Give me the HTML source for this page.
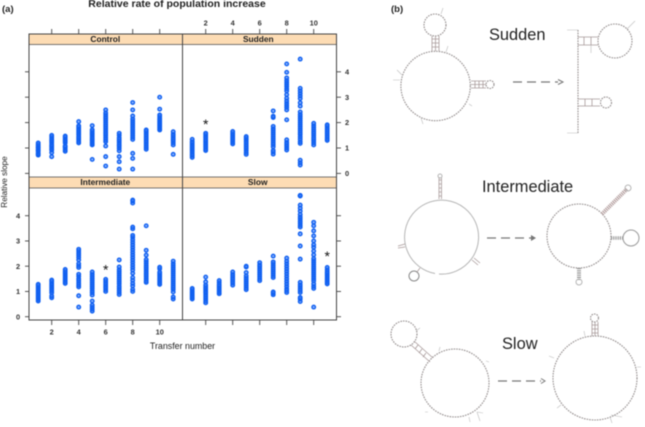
<!DOCTYPE html>
<html>
<head>
<meta charset="utf-8">
<style>
html,body{margin:0;padding:0;background:#fff;width:645px;height:427px;overflow:hidden}
svg{display:block;filter:blur(0.45px)}
text{font-family:"Liberation Sans",sans-serif}
.rna{fill:none;stroke:#958f8f;stroke-width:1.1;stroke-dasharray:1.6 1}
.rnal{fill:none;stroke:#b5b5b5;stroke-width:1}
.stem{fill:none;stroke:#a89a9a;stroke-width:.8}
.tick{fill:none;stroke:#bbb;stroke-width:.6}
.arrow{fill:none;stroke:#777;stroke-width:1.3;stroke-dasharray:9 5}
.big{font-size:16.4px;fill:#222}
</style>
</head>
<body>
<svg id="fig" width="645" height="427" viewBox="0 0 645 427" xmlns="http://www.w3.org/2000/svg">
  <text x="2" y="12" font-size="9.5" font-weight="bold" fill="#222">(a)</text>
  <text x="177" y="7" font-size="10.5" font-weight="bold" fill="#222" text-anchor="middle">Relative rate of population increase</text>
  <text x="182.5" y="349" font-size="8.9" fill="#222" text-anchor="middle">Transfer number</text>
  <text transform="translate(7,182) rotate(-90)" font-size="8.2" fill="#222" text-anchor="middle">Relative slope</text>

  <g>
    <rect x="29" y="34" width="153.5" height="10.5" fill="#fddcb4" stroke="#555" stroke-width=".8"/>
    <rect x="182.5" y="34" width="154" height="10.5" fill="#fddcb4" stroke="#555" stroke-width=".8"/>
    <rect x="29" y="177" width="153.5" height="11" fill="#fddcb4" stroke="#555" stroke-width=".8"/>
    <rect x="182.5" y="177" width="154" height="11" fill="#fddcb4" stroke="#555" stroke-width=".8"/>
    <text x="105.3" y="42" font-size="8.4" font-weight="bold" fill="#222" text-anchor="middle">Control</text>
    <text x="258.3" y="42" font-size="8.4" font-weight="bold" fill="#222" text-anchor="middle">Sudden</text>
    <text x="105.3" y="185" font-size="8.4" font-weight="bold" fill="#222" text-anchor="middle">Intermediate</text>
    <text x="257.7" y="185" font-size="8.4" font-weight="bold" fill="#222" text-anchor="middle">Slow</text>
  </g>
  <g fill="none" stroke="#444" stroke-width="1">
    <rect x="29" y="34" width="307.5" height="286"/>
    <line x1="182.5" y1="34" x2="182.5" y2="320"/>
  </g>
  <g id="plot"></g>

  <!-- Panel b -->
  <text x="391" y="12" font-size="9.5" font-weight="bold" fill="#222">(b)</text>
  <text x="489" y="40" class="big">Sudden</text>
  <text x="482" y="192" class="big">Intermediate</text>
  <text x="502" y="349" class="big">Slow</text>

  <g>
    <circle class="rna" cx="435.6" cy="86" r="34.7"/>
    <circle class="rna" cx="435" cy="25" r="11"/>
    <path class="stem" d="M432 36V51M435.500 36V51M439 36V51M432 39H439M432 43H439M432 47H439"/>
    <path class="stem" d="M471 81H486M471 84.500H486M471 88H486M475 81V88M479 81V88M483 81V88"/>
    <circle class="rna" cx="490" cy="84.500" r="4"/>
    <path class="tick" d="M441 14L443 8M446 52L448 46M402 75L397 70M400 80H393M469 104L472 106M421 118L423 124"/>
  </g>
  <path class="arrow" d="M513 82H558"/>
  <path d="M558 79.500L563 82L558 84.500" fill="none" stroke="#777" stroke-width="1"/>
  <g>
    <path class="rna" d="M578 30V133"/>
    <path class="stem" d="M578 37H598M578 45H598M584 37V45M591 37V45M578 99H600M578 106H600M585 99V106M592 99V106"/>
    <path class="tick" d="M567 30H578M567 133H578M591 45V53M627 29L635 21"/>
    <circle class="rna" cx="615" cy="41" r="17"/>
    <circle class="rna" cx="606" cy="102.500" r="5.500"/>
  </g>

  <g>
    <path class="rnal" d="M435 273.500A37 37 0 1 1 439 274"/>
    <path class="stem" d="M439 177V199M441.500 177V199M439 180H441.500M439 184H441.500M439 188H441.500M439 192H441.500M439 196H441.500"/>
    <circle class="rnal" cx="440" cy="176" r="2"/>
    <circle cx="414" cy="276" r="5" fill="none" stroke="#888" stroke-width="1"/>
    <path class="stem" d="M417 272L420 268" stroke-width="1.500"/>
    <path class="stem" d="M405 244L398 246M405 247L398 248M474 258L480 263M472 260L478 265"/>
  </g>
  <path class="arrow" d="M487 238H532"/>
  <path d="M531 235L536 238L531 241Z" fill="#777"/>
  <g>
    <circle class="rna" cx="579" cy="236" r="32"/>
    <path d="M602 214L627 189" stroke="#b5a0a0" stroke-width="4" stroke-dasharray="1.200 .8" fill="none"/>
    <circle class="rnal" cx="628" cy="188" r="3" stroke="#999"/>
    <path d="M611 238H623" stroke="#999" stroke-width="3.500" stroke-dasharray="1.200 1" fill="none"/>
    <circle cx="631" cy="238" r="8" fill="none" stroke="#999" stroke-width="1"/>
    <path d="M579 268V280" stroke="#999" stroke-width="4" stroke-dasharray="1.200 1" fill="none"/>
    <circle class="rnal" cx="579" cy="282" r="3" stroke="#999"/>
  </g>

  <g>
    <circle class="rna" cx="455" cy="383" r="34"/>
    <circle class="rna" cx="404" cy="334" r="13"/>
    <path class="stem" d="M414 341L433 358M411 345L430 362M418 345L415 349M422 349L419 353M426 353L423 357"/>
    <path class="tick" d="M416 331L420 328M439 351L440 347M486 361L489 362M428 412L425 412M477 412L480 421M477 412L483 413M469 417L470 422"/>
  </g>
  <path class="arrow" d="M498 381H541"/>
  <path d="M541 378.500L545 381L541 383.500" fill="none" stroke="#777" stroke-width="1"/>
  <g>
    <circle class="rna" cx="595" cy="378" r="42"/>
    <path class="stem" d="M592 322V336M595 322V336M598 322V336M592 325H598M592 329H598M592 333H598"/>
    <circle class="rna" cx="594.500" cy="318" r="4"/>
    <path class="tick" d="M585 336L584 331M554 358L549 356M637 367L641 367M561 405L557 408M610 417L612 423M611 415L622 417"/>
  </g>
</svg>
<script>
const xTickValues = [2, 4, 6, 8, 10];
const yTickValues = [0, 1, 2, 3, 4];
const transfers = [1, 2, 3, 4, 5, 6, 7, 8, 9, 10, 11];

const controlSlopes = [
  [0.72,0.76,0.8,0.86,0.9,0.93,0.98,1.02,1.05,1.1,1.14,1.2],
  [0.66,0.82,0.92,0.97,1.03,1.08,1.13,1.2,1.26,1.31,1.37,1.44,1.5],
  [0.87,0.93,1.0,1.05,1.08,1.2,1.26,1.3,1.36,1.42,1.47],
  [1.2,1.26,1.33,1.39,1.45,1.52,1.58,1.64,1.7,1.76,1.82,1.87,2.04],
  [0.55,1.12,1.17,1.22,1.28,1.33,1.38,1.44,1.5,1.55,1.6,1.66,1.72,1.88],
  [0.29,0.66,1.08,1.25,1.32,1.4,1.48,1.55,1.62,1.7,1.78,1.85,1.92,2.0,2.08,2.15,2.22,2.3,2.38,2.5],
  [0.17,0.46,0.66,0.89,0.99,1.07,1.13,1.2,1.27,1.33,1.4,1.5,1.58],
  [0.17,0.59,0.79,1.34,1.42,1.5,1.58,1.66,1.74,1.82,1.9,1.98,2.06,2.14,2.26,2.5,2.79],
  [0.95,1.02,1.09,1.16,1.23,1.3,1.37,1.44,1.51,1.58,1.65,1.71],
  [1.71,1.76,1.81,1.86,1.91,1.96,2.01,2.06,2.11,2.16,2.23,2.3,2.53,3.0],
  [0.75,1.12,1.2,1.27,1.33,1.4,1.47,1.54,1.64]
];
const suddenSlopes = [
  [0.63,0.7,0.76,0.83,0.89,0.95,1.01,1.07,1.13,1.19,1.25,1.34],
  [0.9,0.96,1.03,1.09,1.15,1.21,1.27,1.33,1.4,1.46,1.52,1.58],
  [],
  [1.16,1.22,1.28,1.34,1.4,1.46,1.52,1.58,1.65],
  [0.75,0.82,0.9,0.98,1.05,1.12,1.19,1.26,1.33,1.39,1.45],
  [],
  [0.76,0.84,0.9,1.05,1.13,1.2,1.28,1.36,1.44,1.52,1.6,1.68,1.76,1.85,2.2,2.25,2.46],
  [0.92,1.0,1.08,1.15,1.22,1.32,2.11,2.5,2.6,2.68,2.76,2.85,2.96,3.1,3.25,3.33,3.42,3.5,3.58,3.66,3.76,3.98,4.31],
  [0.33,0.42,0.52,1.18,1.25,1.35,1.44,1.53,1.6,1.68,1.76,1.84,1.92,2.0,2.08,2.16,2.24,2.32,2.42,2.65,2.78,2.95,3.05,3.15,3.25,3.35,4.5],
  [1.12,1.2,1.28,1.35,1.42,1.5,1.57,1.64,1.72,1.8,1.88,1.97],
  [1.3,1.36,1.43,1.5,1.57,1.64,1.71,1.78,1.85,1.91]
];
const intermediateSlopes = [
  [0.62,0.68,0.74,0.8,0.86,0.92,0.98,1.04,1.1,1.16,1.22,1.28],
  [0.75,0.82,0.95,1.02,1.08,1.14,1.2,1.26,1.32,1.39,1.45],
  [1.32,1.38,1.44,1.5,1.56,1.62,1.68,1.74,1.8,1.87],
  [0.38,0.83,1.18,1.25,1.33,1.42,1.5,1.6,1.68,1.95,2.02,2.1,2.25,2.35,2.44,2.52,2.6,2.67],
  [0.22,0.3,0.38,0.46,0.62,0.86,0.95,1.03,1.12,1.2,1.28,1.36,1.44,1.52,1.6,1.68,1.77],
  [1.0,1.07,1.14,1.2,1.27,1.34,1.41,1.48],
  [0.88,0.96,1.04,1.12,1.2,1.3,1.38,1.46,1.54,1.62,1.7,1.78,1.86,1.97,2.25],
  [1.0,1.08,1.22,1.32,1.44,1.55,1.72,1.85,1.95,2.05,2.15,2.25,2.35,2.45,2.55,2.65,2.75,2.85,2.95,3.05,3.15,3.22,3.48,3.55,4.5,4.58,4.62],
  [1.36,1.42,1.5,1.58,1.65,1.72,1.8,1.88,1.95,2.02,2.1,2.18,2.26,2.44,2.63,3.6],
  [1.28,1.34,1.4,1.46,1.52,1.58,1.64,1.7,1.76,1.9,1.96],
  [0.7,0.78,0.98,1.08,1.15,1.22,1.3,1.38,1.46,1.54,1.62,1.7,1.78,1.86,1.94,2.02,2.1,2.2]
];
const slowSlopes = [
  [0.7,0.76,0.82,0.88,0.94,1.0,1.06,1.12],
  [0.55,0.62,0.7,0.78,0.86,0.94,1.0,1.06,1.12,1.18,1.25,1.38,1.57],
  [0.91,0.97,1.03,1.09,1.15,1.21,1.27,1.35,1.43],
  [1.25,1.33,1.4,1.47,1.54,1.61,1.68,1.77],
  [1.07,1.14,1.22,1.3,1.38,1.46,1.54,1.62,1.75,1.97,2.0],
  [1.43,1.5,1.58,1.66,1.74,1.82,1.9,1.98,2.05,2.14],
  [0.87,0.93,0.98,1.55,1.62,1.7,1.78,1.86,1.94,2.02,2.1,2.17,2.4],
  [0.96,1.03,1.1,1.2,1.3,1.4,1.5,1.6,1.7,1.8,1.9,2.0,2.1,2.2,2.32],
  [0.6,0.7,0.76,0.96,1.03,1.1,1.18,1.26,1.36,2.28,2.8,3.28,3.55,3.62,3.7,3.78,3.87,3.95,4.05,4.18,4.3,4.42,4.78,4.8,4.8],
  [0.38,1.12,1.2,1.3,1.42,1.5,1.58,1.66,1.74,1.82,1.9,1.98,2.06,2.14,2.22,2.3,2.45,2.6,2.75,2.85,3.0,3.2,3.4,3.6,3.74],
  [1.3,1.36,1.42,1.48,1.54,1.6,1.66,1.72,1.78,1.86,1.95]
];
const starMarks = [
  { panel: 'sudden', transfer: 2, slope: 2.06 },
  { panel: 'intermediate', transfer: 6, slope: 1.98 },
  { panel: 'slow', transfer: 11, slope: 2.52 }
];

const NS = 'http://www.w3.org/2000/svg';
const plot = document.getElementById('plot');
const xLeft = v => 24.7 + 13.5 * v;
const xRight = v => 178.7 + 13.5 * v;
const yTop = v => 173.4 - 25.4 * v;
const yBottom = v => 316.7 - 25.25 * v;

const panels = [
  { name: 'control', values: controlSlopes, x: xLeft, y: yTop },
  { name: 'sudden', values: suddenSlopes, x: xRight, y: yTop },
  { name: 'intermediate', values: intermediateSlopes, x: xLeft, y: yBottom },
  { name: 'slow', values: slowSlopes, x: xRight, y: yBottom }
];

function tickLine(x1, y1, x2, y2) {
  const l = document.createElementNS(NS, 'line');
  l.setAttribute('x1', x1);
  l.setAttribute('y1', y1);
  l.setAttribute('x2', x2);
  l.setAttribute('y2', y2);
  l.setAttribute('stroke', '#444');
  l.setAttribute('stroke-width', '0.9');
  
  
  plot.appendChild(l);
}
function tickLabel(x, y, str) {
  const t = document.createElementNS(NS, 'text');
  t.setAttribute('x', x);
  t.setAttribute('y', y);
  t.setAttribute('font-size', '7.4');
  t.setAttribute('font-weight', 'bold');
  t.setAttribute('fill', '#333');
  t.setAttribute('text-anchor', 'middle');
  
  
  t.textContent = str;
  plot.appendChild(t);
}

xTickValues.forEach(v => {
  tickLine(xLeft(v), 29, xLeft(v), 34);
  tickLine(xRight(v), 29, xRight(v), 34);
  tickLabel(xRight(v), 25.5, v);
  tickLine(xLeft(v), 320, xLeft(v), 325);
  tickLine(xRight(v), 320, xRight(v), 325);
  tickLabel(xLeft(v), 334.5, v);
});
yTickValues.forEach(v => {
  tickLine(25, yTop(v), 29, yTop(v));
  tickLine(336.5, yTop(v), 341, yTop(v));
  tickLabel(347, yTop(v) + 2.6, v);
  tickLine(25, yBottom(v), 29, yBottom(v));
  tickLine(336.5, yBottom(v), 341, yBottom(v));
  tickLabel(18, yBottom(v) + 2.6, v);
});

panels.forEach(p => {
  p.values.forEach((col, i) => {
    col.forEach(val => {
      const c = document.createElementNS(NS, 'circle');
      c.setAttribute('cx', p.x(transfers[i]));
      c.setAttribute('cy', p.y(val));
      c.setAttribute('r', '1.8');
      c.setAttribute('fill', 'rgba(50,120,250,0.6)');
      c.setAttribute('stroke', '#0f5ff0');
      c.setAttribute('stroke-width', '1.3');
      
      
      plot.appendChild(c);
    });
  });
});

starMarks.forEach(s => {
  const p = panels.find(q => q.name === s.panel);
  const t = document.createElementNS(NS, 'text');
  t.setAttribute('x', p.x(s.transfer));
  t.setAttribute('y', p.y(s.slope) + 8);
  t.setAttribute('font-size', '14');
  t.setAttribute('fill', '#111');
  t.setAttribute('text-anchor', 'middle');
  
  
  t.textContent = '*';
  plot.appendChild(t);
});
</script>
</body>
</html>
